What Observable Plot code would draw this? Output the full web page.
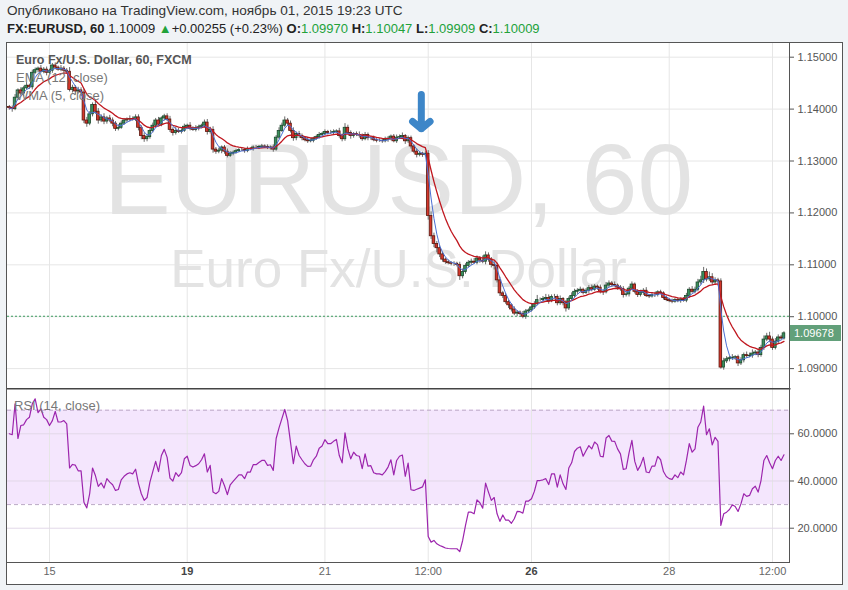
<!DOCTYPE html>
<html><head><meta charset="utf-8">
<script src="https://cdn.jsdelivr.net/npm/d3@7"></script>
<script src="https://cdn.jsdelivr.net/npm/@observablehq/plot@0.6"></script>
<style>
body{margin:0;background:#f0f3f6;width:848px;height:590px;overflow:hidden;font-family:"Liberation Sans",Arial,sans-serif;position:relative}
#h1{position:absolute;left:7px;top:3px;font-size:13.6px;color:#333;white-space:nowrap}
#h2{position:absolute;left:7px;top:21px;font-size:13px;color:#222;white-space:nowrap}
#h2 b{font-weight:bold}
.g{color:#22a23a}
#box{position:absolute;left:6px;top:42px;width:835px;height:541px;background:#fff;border:1px solid #555}
.pane{position:absolute;left:0}
.leg{position:absolute;white-space:nowrap;font-size:13px;color:#777}
#ttl{left:9px;top:10px;font-weight:bold;color:#555;font-size:12.5px}
#lastbox{position:absolute;left:783px;width:51px;height:16px;background:#62a07a;color:#fff;font-size:11px;line-height:16px;text-align:left;padding-left:4px;box-sizing:border-box}
</style></head>
<body>
<div id="h1"></div>
<div id="h2"></div>
<div id="box">
  <div id="pricePane" class="pane" style="top:0"></div>
  <div id="rsiPane" class="pane" style="top:345px"></div>
  <div id="ttl" class="leg"></div>
  <div id="ema" class="leg" style="left:9px;top:27px"></div>
  <div id="wmaL" class="leg" style="left:9px;top:45px"></div>
  <div id="rsiL" class="leg" style="left:7px;top:355px"></div>
  <div id="lastbox"></div>
</div>
<script>
// ---------- data ----------
const publishedLine = "Опубликовано на TradingView.com, ноябрь 01, 2015 19:23 UTC";
const symbolName = "FX:EURUSD, 60";
const headerLast = "1.10009";
const headerChange = "+0.00255 (+0.23%)";
const ohlcLabels = ["O:", "H:", "L:", "C:"];
const ohlcValues = ["1.09970", "1.10047", "1.09909", "1.10009"];
const paneTitle = "Euro Fx/U.S. Dollar, 60, FXCM";
const emaLabel = "EMA (12, close)";
const wmaLabel = "WMA (5, close)";
const rsiLabel = "RSI (14, close)";
const watermark = ["EURUSD, 60", "Euro Fx/U.S. Dollar"];

const open0 = 1.1404;
const closes = [
1.1402,1.1400,1.1422,1.1436,1.1430,1.1440,1.1445,1.1442,1.1470,1.1475,
1.1478,1.1472,1.1476,1.1470,1.1474,1.1484,1.1480,1.1476,1.1478,1.1474,
1.1472,1.1437,1.1441,1.1434,1.1436,1.1432,1.1378,1.1372,1.1390,1.1408,
1.1395,1.1378,1.1384,1.1376,1.1382,1.1378,1.1372,1.1362,1.1364,1.1372,
1.1378,1.1380,1.1381,1.1380,1.1384,1.1364,1.1348,1.1342,1.1346,1.1358,
1.1368,1.1378,1.1370,1.1382,1.1386,1.1380,1.1360,1.1354,1.1358,1.1356,
1.1358,1.1366,1.1368,1.1362,1.1360,1.1363,1.1365,1.1368,1.1374,1.1356,
1.1360,1.1322,1.1318,1.1320,1.1326,1.1318,1.1310,1.1314,1.1316,1.1319,
1.1321,1.1321,1.1319,1.1323,1.1323,1.1326,1.1326,1.1327,1.1328,1.1327,
1.1325,1.1326,1.1322,1.1345,1.1358,1.1368,1.1378,1.1372,1.1358,1.1344,
1.1352,1.1348,1.1344,1.1340,1.1338,1.1339,1.1343,1.1346,1.1350,1.1352,
1.1356,1.1354,1.1354,1.1356,1.1357,1.1348,1.1342,1.1364,1.1354,1.1348,
1.1352,1.1350,1.1349,1.1342,1.1350,1.1344,1.1344,1.1340,1.1339,1.1339,
1.1338,1.1341,1.1343,1.1347,1.1338,1.1345,1.1346,1.1348,1.1338,1.1344,
1.1328,1.1318,1.1312,1.1314,1.1312,1.1314,1.1194,1.1155,1.1140,1.1132,
1.1120,1.1110,1.1105,1.1103,1.1102,1.1102,1.1100,1.1078,1.1086,1.1098,
1.1104,1.1106,1.1104,1.1112,1.1108,1.1106,1.1118,1.1110,1.1100,1.1098,
1.1070,1.1045,1.1040,1.1028,1.1022,1.1014,1.1006,1.1008,1.1005,1.1000,
1.1010,1.1012,1.1018,1.1024,1.1032,1.1032,1.1034,1.1036,1.1030,1.1038,
1.1038,1.1026,1.1034,1.1026,1.1016,1.1034,1.1040,1.1048,1.1050,1.1052,
1.1046,1.1050,1.1055,1.1052,1.1058,1.1056,1.1048,1.1047,1.1060,1.1064,
1.1061,1.1060,1.1056,1.1053,1.1042,1.1043,1.1054,1.1062,1.1048,1.1042,
1.1046,1.1050,1.1040,1.1039,1.1042,1.1042,1.1047,1.1045,1.1036,1.1032,
1.1030,1.1029,1.1032,1.1030,1.1033,1.1031,1.1040,1.1052,1.1048,1.1052,
1.1066,1.1070,1.1086,1.1072,1.1076,1.1066,1.1070,1.1068,1.0902,1.0914,
1.0918,1.0920,1.0921,1.0922,1.0910,1.0916,1.0926,1.0924,1.0925,1.0929,
1.0931,1.0926,1.0940,1.0956,1.0962,1.0956,1.0940,1.0952,1.0960,1.0958,
1.0968];
// wick lengths beyond the body, in pips (0.0001)
const wickUp = [
3,4,6,3,5,4,6,3,5,4, 3,6,4,5,3,4,5,3,6,4, 4,8,5,4,6,5,7,6,5,4, 8,6,5,7,4,6,5,4,6,5,
4,3,6,4,5,5,4,6,5,4, 5,4,6,3,4,5,6,4,7,5, 4,5,3,6,4,5,4,3,5,6, 5,6,4,5,3,4,5,4,3,4,
3,4,3,4,3,3,4,3,4,3, 4,3,5,4,6,5,7,4,5,6, 4,5,4,3,5,4,3,4,5,3, 4,3,5,4,3,6,4,8,5,4,
3,4,6,3,5,4,3,4,3,4, 3,5,4,3,4,5,4,6,3,4, 4,3,5,4,3,4,6,8,6,5, 5,4,3,4,3,4,3,5,6,4,
4,5,6,5,4,9,7,5,4,6, 5,6,4,5,4,3,5,4,3,5, 4,3,6,5,9,4,5,7,6,4, 5,4,6,3,5,4,6,5,4,5,
3,4,5,6,4,3,5,4,6,5, 4,6,3,4,5,6,4,5,3,4, 5,4,6,3,4,5,3,4,3,4, 3,4,3,4,3,4,5,4,6,5,
6,8,9,6,10,7,5,4,5,6, 5,4,6,3,4,5,4,6,5,7, 4,6,5,7,6,8,5,6,5,4, 3];
const wickDn = [
4,6,3,5,4,6,3,4,5,3, 5,3,4,6,3,5,4,3,4,5, 5,4,6,7,5,8,6,7,4,5, 5,7,4,6,5,4,6,5,4,3,
3,4,5,3,4,6,7,6,5,4, 4,5,3,4,5,4,5,6,4,3, 4,3,5,4,3,4,5,3,4,6, 4,7,5,4,6,5,4,3,4,3,
3,3,4,3,3,4,3,4,3,3, 3,4,5,3,4,3,4,5,4,6, 5,4,5,3,4,3,4,3,4,3, 3,4,3,5,3,4,5,4,3,6,
4,3,5,4,3,5,4,3,4,3, 4,3,5,4,3,4,3,5,6,4, 5,4,6,4,5,4,8,6,7,9, 6,5,4,3,4,5,4,8,5,4,
4,5,3,4,5,4,6,5,6,8, 5,6,5,4,6,5,4,6,3,4, 5,4,3,4,3,4,5,4,6,3, 4,5,4,5,7,4,3,4,5,3,
4,3,5,4,3,5,4,6,3,4, 4,3,5,4,6,4,5,3,4,5, 4,5,3,4,3,5,4,3,4,3, 3,4,3,3,4,3,4,5,3,4,
4,5,6,5,4,6,5,4,3,5, 4,5,4,5,6,4,5,4,3,5, 4,5,4,5,4,6,5,4,5,3, 3];
const rsiValues = [
60,59.6,72.7,58,63.5,63.8,66,67,72.7,74.8,
69,70.6,67,66,63.5,65.6,69.5,65,65,65.6,
64.2,45.5,47,46.7,44.3,44.3,31,28.6,34.6,45.5,
42.3,37.7,39.2,37,41,39.5,38.4,36,36.4,40.5,
42,43,43.5,43,45,39,34.6,31.8,33,39.5,
44,48.3,44,50.8,53.4,50,41.2,40,43.5,42,
43.5,49.4,50.5,46.6,45.9,46.5,47.3,49,51.5,43.8,
46.6,35.3,34.6,35.6,41,38,34.2,38.4,39.8,41.2,
42.6,42.6,41,43.8,43.8,46.9,46.9,47.8,48.7,48.7,
46.6,46.9,44.5,58,62.5,66.4,70.3,65.6,56.5,47.3,
54.8,50.8,49,47.3,46.2,46.3,49,50.5,53.9,54.8,
57.5,55.8,55.8,56.8,57.6,50.8,47.7,60.4,53.6,49.4,
52.2,50.8,50.5,45.2,51.5,46.3,46.5,43.5,43,43,
42.6,44,45.9,49,42.6,48.7,50.5,51,42,47.6,
36.3,36,36.5,37,37.5,40.5,16.5,14.1,14.8,13.4,
12.7,12.2,11.6,11.4,11.3,11.3,11.3,10.1,14.8,21.2,
26.8,26.8,26.1,32,30.8,28.5,39.1,35.3,31.8,33,
26.1,22.9,25.6,23.4,23.4,22.1,24,27.1,27,26.4,
31.5,31.5,32.5,35.6,40.2,40.2,40.5,41,38.5,43,
43,37.4,42.6,38.8,36.4,45.5,47.7,52.5,53.9,54.5,
50.5,52.8,55,53.6,56.5,55.4,50.5,50.2,58.2,59.3,
56.9,56.8,53.6,51.5,44.9,45.2,51.9,57.2,48.3,44.5,
46.6,50,43.8,43.5,46.3,46.3,50.4,49,44,41.9,
41,40.7,42.6,41.4,43.8,42.6,48.7,55.8,52.2,53.6,
62.8,65,71.7,59.6,62.1,55.3,58.5,56.8,21.2,26.1,
26.8,27.9,29.9,29.2,27.1,30.3,34.6,33.5,33.9,36.7,
37.8,35.3,40.2,48.7,50.8,47.7,45.2,48.7,50.5,48.7,
51.1];

const priceTicks = [1.09, 1.10, 1.11, 1.12, 1.13, 1.14, 1.15];
const rsiTicks = [20, 40, 60];
const rsiBand = [30, 70];
const timeTickBars = [14, 62, 110, 146, 182, 230, 266];
const timeTickLabels = ["15", "19", "21", "12:00", "26", "28", "12:00"];
const weekStartLabels = ["19", "26"];
const priceLine = 1.10009;
const lastPriceText = "1.09678";
const arrowNote = [{bar: 143.6, from: 1.1428, to: 1.1362}];
const xDomain = [-0.64, 271.93];
const priceDomain = [1.08617, 1.15264];
const rsiDomain = [5.47, 79.19];

// ---------- header ----------
document.getElementById("h1").textContent = publishedLine;
let h2 = `<b>${symbolName}</b> ${headerLast} <span class="g">▲</span>${headerChange} `;
ohlcLabels.forEach((l, k) => { h2 += ` <b>${l}</b><span class="g">${ohlcValues[k]}</span>`; });
document.getElementById("h2").innerHTML = h2;
document.getElementById("ttl").textContent = paneTitle;
document.getElementById("ema").textContent = emaLabel;
document.getElementById("wmaL").textContent = wmaLabel;
document.getElementById("rsiL").textContent = rsiLabel;

// ---------- derived ----------
const bars = closes.map((c, i) => {
  const o = i ? closes[i - 1] : open0;
  return {i, o, c, h: Math.max(o, c) + wickUp[i] / 1e4, l: Math.min(o, c) - wickDn[i] / 1e4};
});
const ema = [];
closes.forEach((c, i) => ema.push(i ? ema[i - 1] + (c - ema[i - 1]) * 2 / 13 : c));
const wma = closes.map((c, i) => {
  let s = 0, w = 0;
  for (let k = 0; k < 5 && i - k >= 0; k++) { s += closes[i - k] * (5 - k); w += 5 - k; }
  return s / w;
});
const up = bars.filter(d => d.c >= d.o), dn = bars.filter(d => d.c < d.o);
const labelOf = new Map(timeTickBars.map((b, k) => [b, timeTickLabels[k]]));
const boldTicks = timeTickBars.filter(b => weekStartLabels.includes(labelOf.get(b)));
const normTicks = timeTickBars.filter(b => !weekStartLabels.includes(labelOf.get(b)));

const font = "Liberation Sans, Arial, sans-serif";
const gridCol = "#e6e6e6";

const price = Plot.plot({
  width: 835, height: 345, marginLeft: 0, marginRight: 53, marginTop: 0, marginBottom: 0,
  style: {background: "transparent", fontFamily: font, fontSize: "11px", color: "#555", overflow: "visible"},
  x: {type: "linear", domain: xDomain, axis: null},
  y: {domain: priceDomain, axis: null},
  marks: [
    Plot.gridX(timeTickBars, {stroke: gridCol, strokeOpacity: 1}),
    Plot.gridY(priceTicks, {stroke: gridCol, strokeOpacity: 1}),
    Plot.text([watermark[0]], {frameAnchor: "middle", dy: -28, fontSize: 100, lineHeight: 0.8, fill: "#e3e3e3"}),
    Plot.text([watermark[1]], {frameAnchor: "middle", dy: 57, fontSize: 53, lineHeight: 0.8, fill: "#e3e3e3"}),
    Plot.ruleY([priceLine], {stroke: "#3a9a5c", strokeDasharray: "2,2"}),
    Plot.ruleX(bars, {x: "i", y1: "l", y2: "h", stroke: "#6a6a6a", strokeWidth: 1}),
    Plot.rect(up, {x1: d => d.i - 0.46, x2: d => d.i + 0.46, y1: "o", y2: "c", fill: "#3a8f5c", stroke: "#1c4a2e", strokeWidth: 0.8}),
    Plot.rect(dn, {x1: d => d.i - 0.46, x2: d => d.i + 0.46, y1: "o", y2: "c", fill: "#d4362a", stroke: "#5a1810", strokeWidth: 0.8}),
    Plot.line(ema, {x: (d, i) => i, y: d => d, stroke: "#c0171f", strokeWidth: 1.3}),
    Plot.line(wma, {x: (d, i) => i, y: d => d, stroke: "#4a6fd4", strokeWidth: 1}),
    Plot.arrow(arrowNote, {x1: "bar", x2: "bar", y1: "from", y2: "to", stroke: "#3d86c8", strokeWidth: 7, headLength: 17, headAngle: 100}),
    Plot.axisY(priceTicks, {anchor: "right", tickFormat: d => d.toFixed(5), tickSize: 4, tickPadding: 4, stroke: "#555", fill: "#555"}),
    Plot.frame({anchor: "right", stroke: "#555"})
  ]
});
document.getElementById("pricePane").appendChild(price);

const yS = price.scale("y");
const lb = document.getElementById("lastbox");
lb.textContent = lastPriceText;
lb.style.top = (yS.apply(closes[closes.length - 1]) - 8) + "px";

const rsiChart = Plot.plot({
  width: 835, height: 196, marginLeft: 0, marginRight: 53, marginTop: 0, marginBottom: 22,
  style: {background: "transparent", fontFamily: font, fontSize: "11px", color: "#555"},
  x: {type: "linear", domain: xDomain, axis: null},
  y: {domain: rsiDomain, axis: null},
  marks: [
    Plot.rect([rsiBand], {y1: d => d[0], y2: d => d[1], fill: "#f4e6fd"}),
    Plot.gridX(timeTickBars, {stroke: gridCol, strokeOpacity: 1}),
    Plot.gridY(rsiTicks, {stroke: "#e2d8e8", strokeOpacity: 1}),
    Plot.ruleY(rsiBand, {stroke: "#bba9c6", strokeDasharray: "4,3"}),
    Plot.line(rsiValues, {x: (d, i) => i, y: d => d, stroke: "#9c25ad", strokeWidth: 1.2}),
    Plot.axisY(rsiTicks, {anchor: "right", tickFormat: d => d.toFixed(4), tickSize: 4, tickPadding: 4, stroke: "#555", fill: "#555"}),
    Plot.axisX(normTicks, {anchor: "bottom", tickSize: 0, tickPadding: 5, tickFormat: d => labelOf.get(d), fill: "#666"}),
    Plot.axisX(boldTicks, {anchor: "bottom", tickSize: 0, tickPadding: 5, tickFormat: d => labelOf.get(d), fill: "#444", fontWeight: "bold"}),
    Plot.frame({anchor: "top", stroke: "#444", strokeWidth: 2}),
    Plot.frame({anchor: "bottom", stroke: "#555"}),
    Plot.frame({anchor: "right", stroke: "#555"})
  ]
});
document.getElementById("rsiPane").appendChild(rsiChart);
</script>
</body></html>
